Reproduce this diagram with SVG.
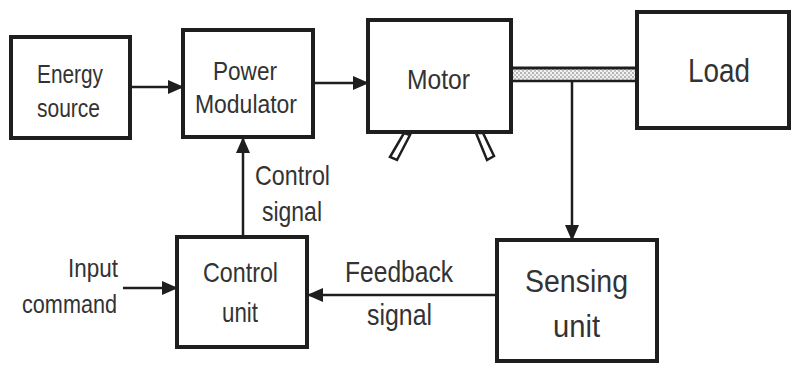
<svg xmlns="http://www.w3.org/2000/svg" width="793" height="367" viewBox="0 0 793 367">
<style>
.box{fill:#fff;stroke:#1e1e1e;stroke-width:4}
.ln{fill:none;stroke:#1e1e1e;stroke-width:2.5}
text{font-family:"Liberation Sans",Arial,sans-serif;fill:#333}
</style>
<defs>
<marker id="ah" markerWidth="16" markerHeight="14" refX="15" refY="7" orient="auto" markerUnits="userSpaceOnUse">
<path d="M0,0 L16,7 L0,14 Z" fill="#1e1e1e"/>
</marker>
<pattern id="dots" width="4" height="4" patternUnits="userSpaceOnUse">
<rect width="4" height="4" fill="#f2f2f2"/>
<rect x="0" y="0" width="2" height="2" fill="#b4b4b4"/>
<rect x="2" y="2" width="2" height="2" fill="#c4c4c4"/>
</pattern>
</defs>
<rect width="793" height="367" fill="#fff"/>
<g id="connectors">
<line class="ln" x1="130" y1="87" x2="183" y2="87" marker-end="url(#ah)"/>
<line class="ln" x1="313" y1="83" x2="368" y2="83" marker-end="url(#ah)"/>
<line class="ln" x1="243" y1="237" x2="243" y2="138" marker-end="url(#ah)"/>
<line class="ln" x1="123" y1="288" x2="177" y2="288" marker-end="url(#ah)"/>
<line class="ln" x1="497" y1="295" x2="308" y2="295" marker-end="url(#ah)"/>
<line class="ln" x1="572" y1="81" x2="572" y2="240" marker-end="url(#ah)"/>
<g id="shaft">
<rect x="512" y="68" width="125" height="13" fill="url(#dots)"/>
<line x1="512" y1="68" x2="637" y2="68" stroke="#1e1e1e" stroke-width="3"/>
<line x1="512" y1="81" x2="637" y2="81" stroke="#1e1e1e" stroke-width="2.5"/>
</g>
<text x="255" y="185" font-size="28" textLength="75" lengthAdjust="spacingAndGlyphs">Control</text>
<text x="262" y="221" font-size="28" textLength="60" lengthAdjust="spacingAndGlyphs">signal</text>
<text x="345" y="282" font-size="30" textLength="108" lengthAdjust="spacingAndGlyphs">Feedback</text>
<text x="367" y="325" font-size="30" textLength="65" lengthAdjust="spacingAndGlyphs">signal</text>
<text x="68" y="277" font-size="26" textLength="50" lengthAdjust="spacingAndGlyphs">Input</text>
<text x="22" y="313" font-size="26" textLength="95" lengthAdjust="spacingAndGlyphs">command</text>
</g>
<g id="energy-source">
<rect class="box" x="11" y="37" width="119" height="101"/>
<text x="37" y="83" font-size="25" textLength="66" lengthAdjust="spacingAndGlyphs">Energy</text>
<text x="37" y="117" font-size="25" textLength="63" lengthAdjust="spacingAndGlyphs">source</text>
</g>
<g id="power-modulator">
<rect class="box" x="183" y="30" width="130" height="107"/>
<text x="213" y="80" font-size="25" textLength="64" lengthAdjust="spacingAndGlyphs">Power</text>
<text x="195" y="113" font-size="25" textLength="102" lengthAdjust="spacingAndGlyphs">Modulator</text>
</g>
<g id="motor">
<path d="M404,133 L410,135 L397,160 L390,157 Z" fill="#fff" stroke="#1e1e1e" stroke-width="2.5"/>
<path d="M476,133 L483,133 L494,156 L487,160 Z" fill="#fff" stroke="#1e1e1e" stroke-width="2.5"/>
<rect class="box" x="368" y="20" width="143" height="112"/>
<text x="407" y="89" font-size="28" textLength="63" lengthAdjust="spacingAndGlyphs">Motor</text>
</g>
<g id="load">
<rect class="box" x="637" y="12" width="152" height="116"/>
<text x="688" y="82" font-size="34" textLength="62" lengthAdjust="spacingAndGlyphs">Load</text>
</g>
<g id="control-unit">
<rect class="box" x="177" y="237" width="130" height="110"/>
<text x="203" y="282" font-size="28" textLength="75" lengthAdjust="spacingAndGlyphs">Control</text>
<text x="222" y="322" font-size="28" textLength="36" lengthAdjust="spacingAndGlyphs">unit</text>
</g>
<g id="sensing-unit">
<rect class="box" x="497" y="240" width="160" height="121"/>
<text x="525" y="292" font-size="31" textLength="103" lengthAdjust="spacingAndGlyphs">Sensing</text>
<text x="553" y="337" font-size="31" textLength="47" lengthAdjust="spacingAndGlyphs">unit</text>
</g>
</svg>
